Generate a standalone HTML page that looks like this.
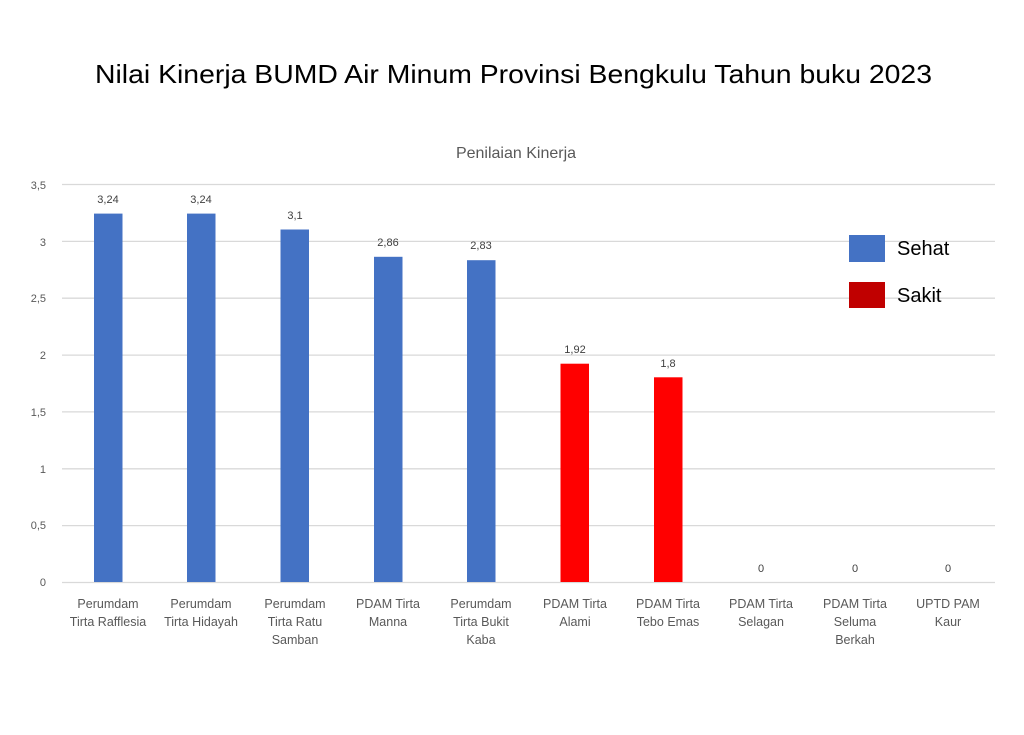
<!DOCTYPE html>
<html><head><meta charset="utf-8"><style>
html,body{margin:0;padding:0;background:#fff}
svg{display:block}
text{font-family:"Liberation Sans",sans-serif}
</style></head><body>
<svg width="1024" height="735" viewBox="0 0 1024 735" xmlns="http://www.w3.org/2000/svg">
<text x="95" y="83" font-size="26" textLength="837" lengthAdjust="spacingAndGlyphs" fill="#000">Nilai Kinerja BUMD Air Minum Provinsi Bengkulu Tahun buku 2023</text>
<text x="516" y="158" font-size="16" text-anchor="middle" fill="#595959">Penilaian Kinerja</text>
<g stroke="#d9d9d9" stroke-width="1.3">
<line x1="62" x2="995" y1="184.5" y2="184.5"/>
<line x1="62" x2="995" y1="241.4" y2="241.4"/>
<line x1="62" x2="995" y1="298.2" y2="298.2"/>
<line x1="62" x2="995" y1="355.1" y2="355.1"/>
<line x1="62" x2="995" y1="411.9" y2="411.9"/>
<line x1="62" x2="995" y1="468.8" y2="468.8"/>
<line x1="62" x2="995" y1="525.6" y2="525.6"/>
<line x1="62" x2="995" y1="582.5" y2="582.5"/>
</g>
<g font-size="11" fill="#595959" text-anchor="end">
<text x="46" y="189">3,5</text><text x="46" y="246">3</text><text x="46" y="302">2,5</text>
<text x="46" y="359">2</text><text x="46" y="416">1,5</text><text x="46" y="473">1</text>
<text x="46" y="529">0,5</text><text x="46" y="586">0</text>
</g>
<g>
<rect x="94" y="213.6" width="28.5" height="368.4" fill="#4472c4"/>
<rect x="187" y="213.6" width="28.5" height="368.4" fill="#4472c4"/>
<rect x="280.5" y="229.5" width="28.5" height="352.5" fill="#4472c4"/>
<rect x="374" y="256.8" width="28.5" height="325.2" fill="#4472c4"/>
<rect x="467" y="260.2" width="28.5" height="321.8" fill="#4472c4"/>
<rect x="560.5" y="363.7" width="28.5" height="218.3" fill="#ff0000"/>
<rect x="654" y="377.3" width="28.5" height="204.7" fill="#ff0000"/>
</g>
<g font-size="11" fill="#404040" text-anchor="middle">
<text x="108" y="203">3,24</text><text x="201" y="203">3,24</text><text x="295" y="219">3,1</text>
<text x="388" y="246">2,86</text><text x="481" y="249">2,83</text><text x="575" y="353">1,92</text>
<text x="668" y="367">1,8</text><text x="761" y="572">0</text><text x="855" y="572">0</text><text x="948" y="572">0</text>
</g>
<g font-size="12.5" fill="#595959" text-anchor="middle">
<text x="108" y="608">Perumdam</text><text x="108" y="626">Tirta Rafflesia</text>
<text x="201" y="608">Perumdam</text><text x="201" y="626">Tirta Hidayah</text>
<text x="295" y="608">Perumdam</text><text x="295" y="626">Tirta Ratu</text><text x="295" y="644">Samban</text>
<text x="388" y="608">PDAM Tirta</text><text x="388" y="626">Manna</text>
<text x="481" y="608">Perumdam</text><text x="481" y="626">Tirta Bukit</text><text x="481" y="644">Kaba</text>
<text x="575" y="608">PDAM Tirta</text><text x="575" y="626">Alami</text>
<text x="668" y="608">PDAM Tirta</text><text x="668" y="626">Tebo Emas</text>
<text x="761" y="608">PDAM Tirta</text><text x="761" y="626">Selagan</text>
<text x="855" y="608">PDAM Tirta</text><text x="855" y="626">Seluma</text><text x="855" y="644">Berkah</text>
<text x="948" y="608">UPTD PAM</text><text x="948" y="626">Kaur</text>
</g>
<rect x="849" y="235" width="36" height="27" fill="#4472c4"/>
<text x="897" y="255" font-size="20" fill="#000">Sehat</text>
<rect x="849" y="282" width="36" height="26" fill="#c00000"/>
<text x="897" y="302" font-size="20" fill="#000">Sakit</text>
</svg>
</body></html>
